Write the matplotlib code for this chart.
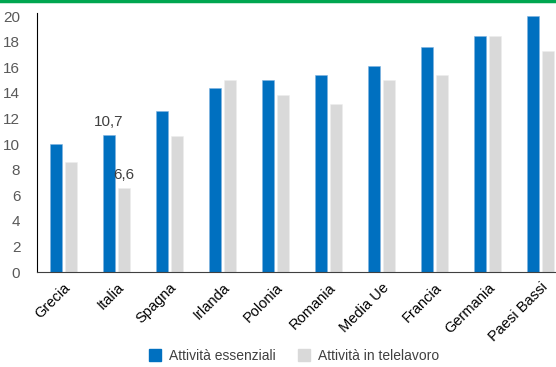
import numpy as np
import matplotlib.pyplot as plt
from matplotlib.lines import Line2D

plt.rcParams['font.family'] = ['Liberation Sans', 'DejaVu Sans']

paesi = ['Grecia', 'Italia', 'Spagna', 'Irlanda', 'Polonia', 'Romania',
         'Media Ue', 'Francia', 'Germania', 'Paesi Bassi']
essenziali = [10.0, 10.7, 12.6, 14.4, 15.0, 15.4, 16.1, 17.6, 18.4, 20.0]
telelavoro = [8.6, 6.6, 10.6, 15.0, 13.8, 13.1, 15.0, 15.4, 18.4, 17.3]

blu = '#0070c0'
grigio = '#d9d9d9'

fig = plt.figure(figsize=[5.56, 3.67], dpi=100)
ax = fig.add_axes([37/556, 95/367, 530/556, 256/367])

x = np.arange(len(paesi))
w = 0.226
off = 0.1415
ax.bar(x - off, essenziali, w, color=blu, edgecolor='#7fb3e0', linewidth=0.4)
ax.bar(x + off, telelavoro, w, color=grigio, edgecolor='#eeeeee', linewidth=0.4)

# etichette solo per l'Italia
i = paesi.index('Italia')
ax.annotate(f'{essenziali[i]:.1f}'.replace('.', ','), (x[i] - off, essenziali[i]),
            xytext=(0, 4), textcoords='offset points', ha='center', va='bottom',
            fontsize=11, color='#404040')
ax.annotate(f'{telelavoro[i]:.1f}'.replace('.', ','), (x[i] + off, telelavoro[i]),
            xytext=(0, 4), textcoords='offset points', ha='center', va='bottom',
            fontsize=11, color='#404040')

ax.set_xlim(-0.5, len(paesi) - 0.5)
ax.set_ylim(0, 20)
ax.set_yticks(range(0, 21, 2))
ax.tick_params(axis='y', length=0, labelsize=11, labelcolor='#595959', pad=12)
ax.set_xticks(x)
ax.set_xticklabels(paesi, rotation=45, ha='right', rotation_mode='anchor')
ax.tick_params(axis='x', length=0, labelsize=10.5, pad=6)
for s in ['top', 'right']:
    ax.spines[s].set_visible(False)
ax.spines['left'].set_color('black')
ax.spines['bottom'].set_color('#404040')
ax.spines['left'].set_bounds(0, 20.2)

handles = [Line2D([], [], marker='s', ls='', color=blu, markersize=8),
           Line2D([], [], marker='s', ls='', color=grigio, markersize=8)]
fig.legend(handles, ['Attività essenziali', 'Attività in telelavoro'],
           loc='center', bbox_to_anchor=(290/556, 1 - 356/367), ncol=2,
           frameon=False, fontsize=10, handletextpad=0.0, columnspacing=1.0,
           labelcolor='#404040')

# linea verde in alto
fig.add_artist(Line2D([0, 1], [0.997, 0.997], transform=fig.transFigure,
                      color='#00a650', linewidth=2.5))

fig.savefig('out.png', dpi=100)
